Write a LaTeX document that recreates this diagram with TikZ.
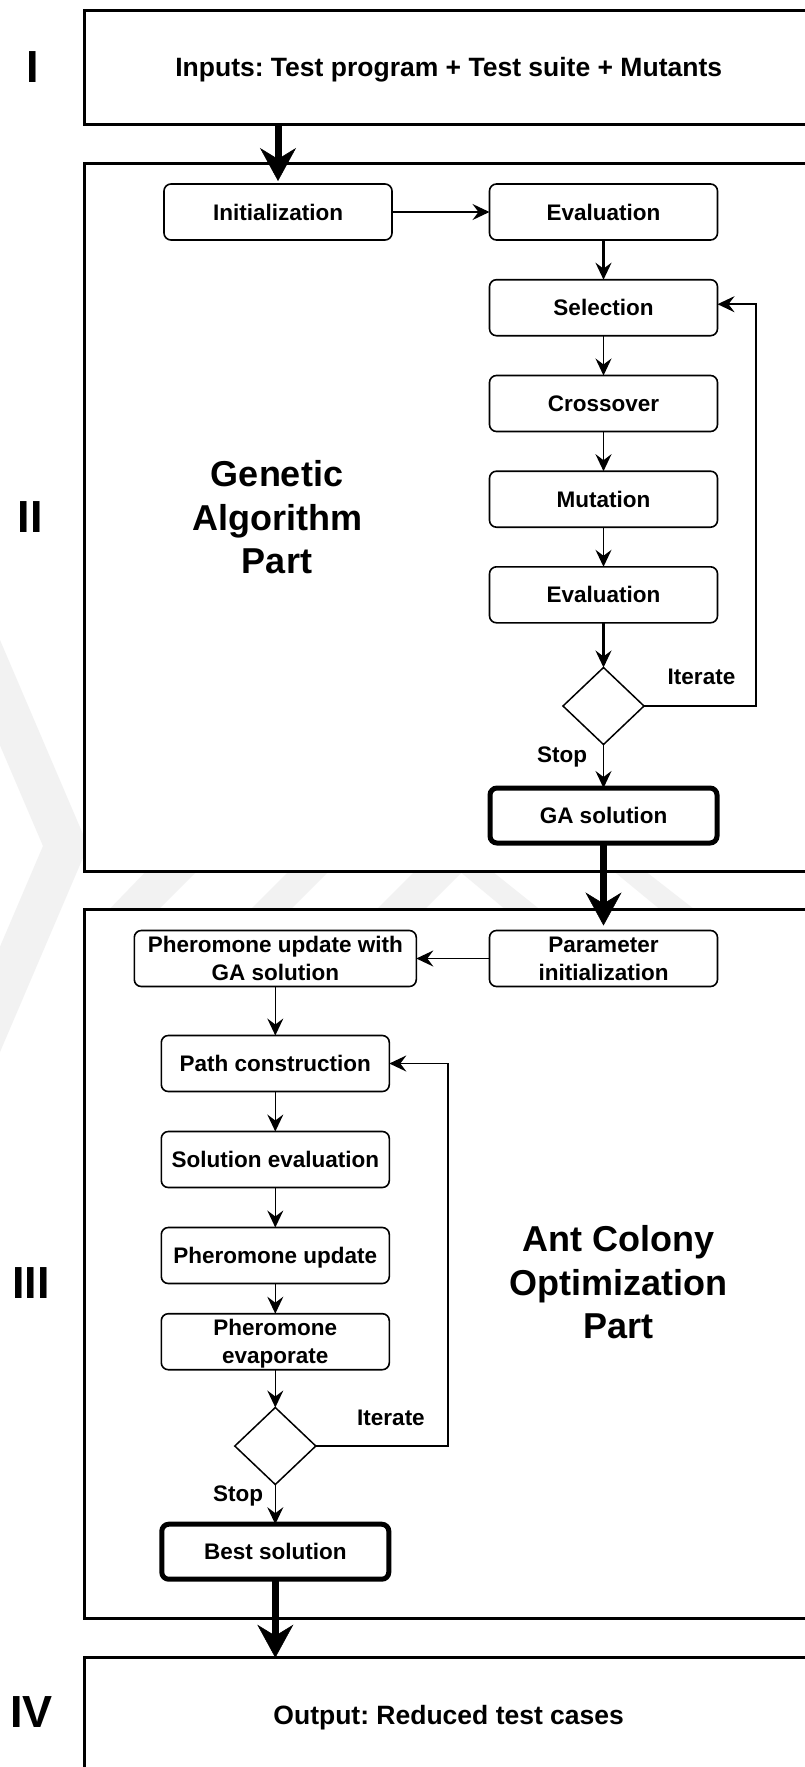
\documentclass[tikz,border=0pt]{standalone}
\usepackage{fontspec}
\setmainfont{Liberation Sans}
\usetikzlibrary{arrows.meta,shapes.geometric}
\frenchspacing

\begin{document}
\begin{tikzpicture}[x=1pt,y=-1pt,
  every node/.style={inner sep=0pt,outer sep=0pt},
  wmark/.style={fill=black!5},
  part/.style={draw,line width=3pt,fill=white,anchor=north west,minimum width=728pt,
    font=\fontsize{26.5}{31}\selectfont\bfseries,text height=19pt,text depth=0pt},
  numeral/.style={font=\fontsize{45}{54}\selectfont\bfseries,text height=32.2pt,text depth=0pt},
  title/.style={font=\fontsize{36}{43.5}\selectfont\bfseries,align=center},
  flowbox/.style={draw,line width=1.6pt,fill=white,rounded corners=7pt,
    minimum width=228pt,minimum height=56pt,
    font=\fontsize{22.5}{28}\selectfont\bfseries,align=center},
  oneline/.style={text height=16.1pt,text depth=0pt},
  resultbox/.style={flowbox,oneline,line width=5pt,minimum width=227pt,minimum height=55pt},
  decision/.style={draw,diamond,line width=1.5pt,fill=white,minimum width=81pt,minimum height=77pt},
  edgelabel/.style={font=\fontsize{22.5}{28}\selectfont\bfseries,text height=16.1pt,text depth=0pt},
  arr/.style={line width=1.6pt,-{Stealth[length=17pt,width=16pt,inset=6pt]}},
  heavyarr/.style={line width=7pt,-{Stealth[length=33pt,width=36pt,inset=11pt,line width=0.5pt]}}
]
\useasboundingbox (0,0) rectangle (805,1767);
\clip (0,0) rectangle (805,1767);
\fill[white] (0,0) rectangle (805,1767);

% faint background watermark
\fill[wmark] (0,640) -- (88,846) -- (0,1052) -- (-45,1052) -- (43,846) -- (-45,640) -- cycle;
\fill[wmark] (99,920) -- (148,920) -- (208,860) -- (157,860) -- cycle;
\fill[wmark] (240,920) -- (280,920) -- (340,860) -- (300,860) -- cycle;
\fill[wmark] (366,920) -- (414,920) -- (474,860) -- (426,860) -- cycle;
\fill[wmark] (446,860) -- (478,860) -- (553,920) -- (518,920) -- cycle;
\fill[wmark] (600,860) -- (631,860) -- (708,920) -- (673,920) -- cycle;

% the four stages
\node[part,minimum height=114pt] (secI) at (84.7,10) {Inputs: Test program + Test suite + Mutants};
\node[part,minimum height=708pt] (secII) at (84.7,163) {};
\node[part,minimum height=708.5pt] (secIII) at (84.7,909.5) {};
\node[part,minimum height=114pt] (secIV) at (84.7,1657.7) {Output: Reduced test cases};

\node[numeral] (numI) at (33,66) {I};
\node[numeral] (numII) at (30.5,516.5) {II};
\node[numeral] (numIII) at (31,1282) {III};
\node[numeral] (numIV) at (31.3,1711) {IV};

\node[title] (gaTitle) at (277,517.5) {Genetic\\Algorithm\\Part};
\node[title] (acoTitle) at (618.6,1282.5) {Ant Colony\\Optimization\\Part};

% genetic algorithm steps
\node[flowbox,oneline] (init) at (278,212) {Initialization};
\node[flowbox,oneline] (evalA) at (603.5,212) {Evaluation};
\node[flowbox,oneline] (select) at (603.5,307.7) {Selection};
\node[flowbox,oneline] (cross) at (603.5,403.5) {Crossover};
\node[flowbox,oneline] (mutate) at (603.5,499.2) {Mutation};
\node[flowbox,oneline] (evalB) at (603.5,594.8) {Evaluation};
\node[decision] (decGA) at (603.5,706) {};
\node[resultbox] (gasol) at (603.5,815.5) {GA solution};

% ant colony steps
\node[flowbox] (param) at (603.5,958.5) {Parameter\\initialization};
\node[flowbox,minimum width=282pt] (phga) at (275.3,958.5) {Pheromone update with\\GA solution};
\node[flowbox,oneline] (pathc) at (275.3,1063.5) {Path construction};
\node[flowbox,oneline] (soleval) at (275.3,1159.5) {Solution evaluation};
\node[flowbox,oneline] (phupd) at (275.3,1255.5) {Pheromone update};
\node[flowbox] (phevap) at (275.3,1341.7) {Pheromone\\\smash{evaporate}};
\node[decision] (decACO) at (275.3,1446) {};
\node[resultbox] (best) at (275.3,1551.7) {Best solution};

\node[edgelabel] (itGA) at (701.5,676.5) {Iterate};
\node[edgelabel] (stopGA) at (562,754) {Stop};
\node[edgelabel] (itACO) at (391,1417.5) {Iterate};
\node[edgelabel] (stopACO) at (238,1493) {Stop};

% genetic algorithm flow
\draw[arr] (init) -- (evalA);
\draw[arr,line width=2.4pt] (evalA) -- (select);
\draw[arr] (select) -- (cross);
\draw[arr] (cross) -- (mutate);
\draw[arr] (mutate) -- (evalB);
\draw[arr,line width=2.2pt] (evalB) -- (decGA);
\draw[arr] (decGA) -- (gasol);
\draw[arr] (decGA.east) -- ++(112,0) |- ([yshift=3.5pt]select.east);

% ant colony flow
\draw[arr] (param) -- (phga);
\draw[arr] (phga) -- (pathc);
\draw[arr] (pathc) -- (soleval);
\draw[arr] (soleval) -- (phupd);
\draw[arr] (phupd) -- (phevap);
\draw[arr] (phevap) -- (decACO);
\draw[arr] (decACO) -- (best);
\draw[arr] (decACO.east) -- ++(132.2,0) |- (pathc.east);

% hand-over between stages
\draw[heavyarr] (init.north |- secI.south) -- ([yshift=3pt]init.north);
\draw[heavyarr] (gasol) -- ([yshift=5pt]param.north);
\draw[heavyarr] (best) -- (best.south |- secIV.north);
\end{tikzpicture}
\end{document}
